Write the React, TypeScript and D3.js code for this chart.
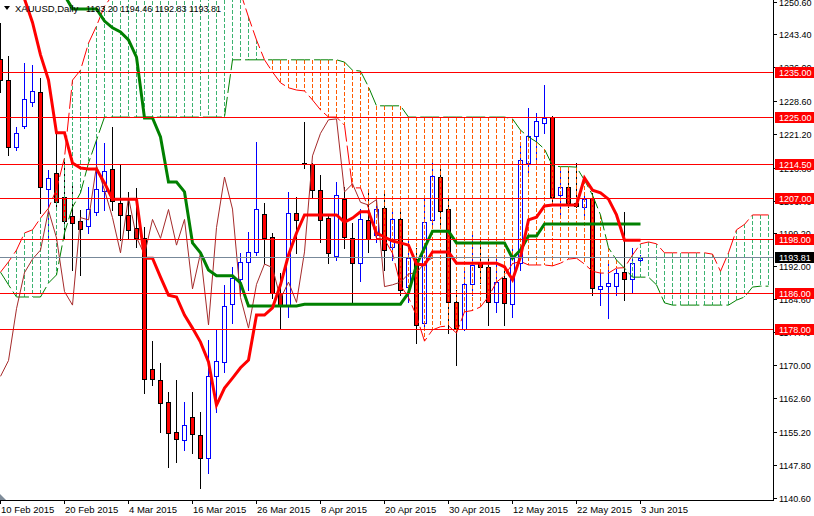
import React from 'react';
import * as d3 from 'd3';

// XAUUSD daily, 10 Feb 2015 .. 3 Jun 2015 with Ichimoku
const symbolText = 'XAUUSD,Daily';
const ohlcText = '1193.20 1194.46 1192.83 1193.81';

const dateLabels = [
  '10 Feb 2015', '20 Feb 2015', '4 Mar 2015', '16 Mar 2015', '26 Mar 2015', '8 Apr 2015',
  '20 Apr 2015', '30 Apr 2015', '12 May 2015', '22 May 2015', '3 Jun 2015',
];

const opens = [
  1237.9, 1233.2, 1218.4, 1223.0, 1228.3, 1230.6, 1209.0, 1212.6, 1207.3, 1203.1,
  1202.0, 1200.8, 1204.0, 1208.6, 1213.5, 1206.0, 1203.3, 1200.4, 1198.2, 1169.1,
  1166.7, 1161.8, 1155.2, 1153.4, 1158.5, 1154.5, 1149.4, 1167.6, 1170.7, 1183.5,
  1189.1, 1192.9, 1195.1, 1203.5, 1198.4, 1186.0, 1183.3, 1203.7, 1214.8, 1214.6,
  1208.8, 1202.6, 1194.2, 1206.8, 1198.2, 1192.6, 1202.2, 1198.9, 1204.8, 1196.2,
  1202.4, 1187.3, 1193.5, 1179.3, 1202.2, 1211.7, 1204.6, 1184.0, 1178.0, 1188.0,
  1192.9, 1191.8, 1184.0, 1189.3, 1183.5, 1192.6, 1214.8, 1220.8, 1223.7, 1225.0,
  1207.7, 1209.5, 1206.0, 1205.0, 1207.0, 1186.9, 1187.5, 1187.5, 1190.6, 1189.1,
  1193.2,
];
const highs = [
  1245.9, 1238.5, 1222.8, 1237.0, 1236.6, 1233.7, 1213.3, 1221.5, 1215.5, 1210.4,
  1204.4, 1209.5, 1219.9, 1219.3, 1222.8, 1214.6, 1208.4, 1209.3, 1200.6, 1175.3,
  1170.5, 1164.0, 1166.7, 1161.8, 1164.0, 1159.6, 1175.6, 1177.8, 1187.8, 1191.8,
  1194.9, 1199.5, 1219.5, 1205.9, 1199.3, 1190.4, 1208.4, 1207.3, 1223.9, 1214.8,
  1212.2, 1203.3, 1210.6, 1209.5, 1201.5, 1204.6, 1209.0, 1207.3, 1208.8, 1204.2,
  1204.2, 1198.0, 1196.0, 1206.8, 1214.8, 1213.9, 1206.8, 1186.7, 1191.8, 1199.3,
  1197.7, 1194.0, 1194.0, 1191.1, 1196.6, 1219.3, 1227.0, 1225.9, 1232.1, 1225.2,
  1213.9, 1213.9, 1214.8, 1208.2, 1208.2, 1190.4, 1193.3, 1191.3, 1204.0, 1196.0,
  1194.46,
];
const lows = [
  1230.6, 1216.6, 1217.6, 1222.6, 1227.5, 1203.7, 1198.2, 1205.0, 1198.2, 1191.1,
  1190.0, 1199.3, 1203.3, 1204.4, 1204.4, 1197.7, 1198.0, 1196.2, 1163.8, 1165.6,
  1155.2, 1147.4, 1148.5, 1151.2, 1150.5, 1142.7, 1146.1, 1159.6, 1168.5, 1179.3,
  1185.5, 1186.7, 1194.4, 1192.6, 1184.9, 1178.2, 1180.7, 1194.9, 1213.7, 1207.3,
  1197.3, 1192.6, 1193.3, 1196.0, 1183.8, 1188.6, 1195.1, 1197.3, 1191.1, 1193.3,
  1185.5, 1184.0, 1174.9, 1177.8, 1200.6, 1200.6, 1177.1, 1170.0, 1177.8, 1185.5,
  1188.2, 1178.9, 1181.8, 1178.9, 1180.7, 1191.1, 1212.2, 1215.5, 1221.5, 1206.2,
  1202.8, 1205.0, 1205.0, 1202.6, 1185.5, 1183.3, 1180.4, 1185.5, 1184.4, 1186.0,
  1192.83,
];
const closes = [
  1233.2, 1218.4, 1221.5, 1229.0, 1230.8, 1209.5, 1211.5, 1206.2, 1202.0, 1201.5,
  1200.2, 1204.6, 1209.0, 1213.0, 1206.4, 1203.3, 1200.0, 1198.2, 1166.9, 1166.9,
  1161.6, 1155.0, 1153.6, 1156.7, 1154.7, 1149.4, 1167.6, 1170.9, 1183.1, 1189.3,
  1192.9, 1195.1, 1204.6, 1198.2, 1186.0, 1183.3, 1203.7, 1202.2, 1214.6, 1208.8,
  1202.2, 1194.9, 1207.7, 1198.4, 1192.6, 1202.4, 1198.0, 1204.6, 1195.5, 1202.4,
  1186.7, 1193.7, 1178.9, 1201.7, 1211.9, 1204.2, 1184.0, 1178.2, 1188.0, 1192.2,
  1191.8, 1184.0, 1188.4, 1183.8, 1193.7, 1215.5, 1220.8, 1224.1, 1224.8, 1207.3,
  1209.5, 1206.0, 1205.3, 1206.8, 1187.1, 1187.5, 1188.2, 1190.4, 1189.1, 1192.6,
  1193.81,
];

// Ichimoku lines, one value per bar
const tenkan = [
  1262, 1259, 1256, 1251.2, 1246.0, 1238.8, 1233.2, 1221.5, 1221.5, 1214.8,
  1213.7, 1213.5, 1213.5, 1210.4, 1206.8, 1206.8, 1206.8, 1206.8, 1193.7, 1193.7,
  1189.5, 1185.5, 1185.1, 1181.1, 1178.2, 1175.1, 1170.7, 1161.1, 1164.9, 1167.1,
  1169.4, 1171.1, 1181.1, 1181.1, 1182.7, 1187.8, 1194.4, 1199.3, 1203.3, 1203.3,
  1203.3, 1203.3, 1203.3, 1201.7, 1202.6, 1204.0, 1204.0, 1199.3, 1198.4, 1197.5,
  1197.1, 1196.6, 1192.4, 1192.2, 1195.1, 1195.1, 1195.1, 1192.6, 1192.6, 1192.6,
  1192.6, 1192.6, 1192.6, 1191.8, 1188.9, 1194.0, 1202.2, 1202.8, 1205.3, 1205.5,
  1205.5, 1205.5, 1205.5, 1211.5, 1208.8, 1208.2, 1206.8, 1203.3, 1197.7, 1197.7,
  1197.7,
];
const kijun = [
  1252, 1252, 1252, 1252, 1252, 1252, 1252, 1252, 1252, 1249,
  1249, 1249, 1249, 1246.3, 1244.8, 1243.9, 1242.1, 1238.3, 1224.8, 1224.8,
  1220.6, 1210.6, 1210.6, 1208.4, 1197.1, 1194.9, 1191.1, 1189.8, 1189.8, 1189.8,
  1188.2, 1183.1, 1183.1, 1183.1, 1183.1, 1183.1, 1183.1, 1183.1, 1183.5, 1183.5,
  1183.5, 1183.5, 1183.5, 1183.5, 1183.5, 1183.5, 1183.5, 1183.5, 1183.5, 1183.5,
  1183.5, 1186.0, 1192.2, 1196.0, 1199.7, 1199.7, 1199.7, 1197.1, 1197.1, 1197.1,
  1197.1, 1197.1, 1197.1, 1197.1, 1193.7, 1195.5, 1198.6, 1198.6, 1201.3, 1201.3,
  1201.3, 1201.3, 1201.3, 1201.3, 1201.3, 1201.3, 1201.3, 1201.3, 1201.3, 1201.3,
  1201.3,
];
const spanA = [
  1190.6, 1192.9, 1195.5, 1199.3, 1200.0, 1202.6, 1204.8, 1209.0, 1216.0, 1233.2,
  1235.4, 1241.4, 1245.2, 1249.6, 1252, 1256, 1258, 1260, 1260, 1260,
  1260, 1260, 1260, 1260, 1260, 1258, 1257, 1256, 1255, 1254,
  1252.6, 1247.2, 1242.1, 1237.7, 1235.0, 1232.6, 1231.5, 1231.0, 1230.8, 1228.8,
  1226.6, 1225.0, 1225.0, 1223.2, 1209.3, 1209.3, 1204.8, 1198.1, 1197.9, 1194.8,
  1187.7, 1185.0, 1180.9, 1175.3, 1177.8, 1178.5, 1178.7, 1177.1, 1181.8, 1182.1,
  1182.9, 1185.2, 1188.4, 1189.8, 1192.5, 1193.0, 1192.2, 1192.2, 1192.2, 1192.0,
  1192.6, 1193.5, 1193.7, 1192.4, 1190.8, 1190.4, 1190.4, 1191.5, 1191.6, 1194.4,
  1196.9, 1197.3, 1196.9, 1194.9, 1194.9, 1194.9, 1194.9, 1194.9, 1194.9, 1194.6,
  1190.8, 1194.9, 1200.0, 1201.2, 1203.3, 1203.3, 1203.3,
];
const spanB = [
  1190.6, 1187.8, 1185.1, 1185.1, 1185.1, 1185.1, 1188.2, 1190.0, 1199.3, 1205.0,
  1208.2, 1214.8, 1219.9, 1225.0, 1225.0, 1225.0, 1225.0, 1225.0, 1225.0, 1225.0,
  1225.0, 1225.0, 1225.0, 1225.0, 1225.0, 1225.0, 1225.0, 1225.0, 1225.0, 1237.7,
  1237.7, 1237.7, 1237.7, 1237.7, 1237.7, 1237.7, 1237.7, 1237.7, 1237.7, 1237.7,
  1237.7, 1237.7, 1237.7, 1237.2, 1235.4, 1235.2, 1231.7, 1227.5, 1227.5, 1227.5,
  1227.5, 1225.0, 1225.0, 1225.0, 1225.0, 1225.0, 1225.0, 1225.0, 1225.0, 1225.0,
  1225.0, 1225.0, 1225.0, 1225.0, 1224.6, 1222.1, 1220.6, 1219.5, 1217.9, 1214.2,
  1214.0, 1214.0, 1213.9, 1211.0, 1207.7, 1203.3, 1196.0, 1193.3, 1191.5, 1189.5,
  1189.5, 1189.5, 1187.8, 1183.8, 1183.3, 1183.3, 1183.3, 1183.3, 1183.3, 1183.3,
  1183.3, 1183.3, 1184.4, 1185.1, 1187.3, 1187.5, 1187.5,
];
const chikou = [
  1167.5, 1171.0, 1182.5, 1190.5, 1193.5, 1195.5, 1204.3, 1198.2, 1186.3, 1183.3,
  1202.7, 1202.2, 1214.2, 1208.8, 1202.7, 1194.9, 1207.2, 1198.3, 1194.5, 1202.3,
  1198.1, 1204.5, 1196.6, 1202.3, 1186.9, 1194.8, 1178.9, 1200.5, 1211.7, 1204.6,
  1185.0, 1178.2, 1187.9, 1192.4, 1191.6, 1184.7, 1188.4, 1183.9, 1195.1, 1216.4,
  1221.4, 1224.4, 1224.6, 1208.4, 1210.2, 1206.1, 1205.5, 1206.7, 1187.4, 1187.8,
  1188.4, 1190.2, 1190.5, 1192.6, 1193.81,
];

const levels = [1235, 1225, 1214.5, 1207, 1198, 1186, 1178];
const lastPrice = 1193.81;
const priceTicks = [
  1250.6, 1243.4, 1236.0, 1228.6, 1221.2, 1213.8, 1206.4, 1199.2,
  1192.0, 1184.6, 1177.4, 1170.0, 1162.6, 1155.2, 1147.8, 1140.6,
];

const W = 814;
const H = 516;
const plotRight = 773;
const plotBottom = 500;
const font = 'Liberation Sans, Arial, sans-serif';

export default function App() {
  // 8px per bar, bar 0 sits on the left edge
  const x = d3.scaleLinear().domain([0, 1]).range([0.5, 8.5]);
  const y = d3.scaleLinear().domain([1178, 1235]).range([329, 72]);
  const snap = (v: number) => Math.round(v) + 0.5;
  const line = d3.line<number>().x((_, i) => x(i)).y(d => y(d));

  return (
    <svg width={W} height={H} style={{ position: 'absolute', left: 0, top: 0, background: '#fff' }} fontFamily={font}>
      <defs>
        <clipPath id="plot">
          <rect x={0} y={0} width={plotRight} height={plotBottom} />
        </clipPath>
      </defs>
      <rect x={0} y={0} width={W} height={H} fill="#fff" />

      <g clipPath="url(#plot)">
        {/* candles */}
        {opens.map((o, i) => {
          const c = closes[i];
          const bull = c > o;
          const cx = x(i);
          const top = Math.round(y(Math.max(o, c)));
          const bot = Math.round(y(Math.min(o, c)));
          const col = bull ? '#0000ff' : '#000000';
          return (
            <g key={'c' + i}>
              <line x1={cx} x2={cx} y1={Math.round(y(highs[i]))} y2={Math.round(y(lows[i])) + 1} stroke={col} />
              <rect x={cx - 2} y={top + 0.5} width={4} height={Math.max(bot - top, 1)}
                fill={bull ? '#ffffff' : '#ff0000'} stroke={col} shapeRendering="crispEdges" />
            </g>
          );
        })}

        {/* kumo hatching */}
        {spanA.map((a, i) => {
          const b = spanB[i];
          const y1 = Math.min(y(a), y(b));
          const y2 = Math.max(y(a), y(b));
          return (
            <line key={'k' + i} x1={x(i)} x2={x(i)} y1={y1} y2={y2}
              stroke={a >= b ? '#3cb371' : '#ff5a00'} strokeDasharray="4,2" shapeRendering="crispEdges" />
          );
        })}
        <path d={line(spanA) ?? ''} fill="none" stroke="#ff0000" strokeWidth={1} strokeDasharray="19,4" />
        <path d={line(spanB) ?? ''} fill="none" stroke="#008000" strokeWidth={1} strokeDasharray="19,4" />

        {/* chikou, tenkan, kijun */}
        <path d={line(chikou) ?? ''} fill="none" stroke="#a52a2a" strokeWidth={1} />
        <path d={line(kijun) ?? ''} fill="none" stroke="#008000" strokeWidth={3} />
        <path d={line(tenkan) ?? ''} fill="none" stroke="#ff0000" strokeWidth={3} />

        {/* horizontal levels */}
        {levels.map(l => (
          <line key={'l' + l} x1={0} x2={plotRight} y1={snap(y(l))} y2={snap(y(l))} stroke="#ff0000" shapeRendering="crispEdges" />
        ))}
        <line x1={0} x2={plotRight} y1={snap(y(lastPrice)) - 1} y2={snap(y(lastPrice)) - 1} stroke="#778899" shapeRendering="crispEdges" />
      </g>

      {/* axes */}
      <line x1={plotRight + 0.5} x2={plotRight + 0.5} y1={0} y2={plotBottom + 1} stroke="#000" shapeRendering="crispEdges" />
      <line x1={0} x2={plotRight + 1} y1={plotBottom + 0.5} y2={plotBottom + 0.5} stroke="#000" shapeRendering="crispEdges" />

      {priceTicks.map(p => {
        const py = snap(y(p));
        return (
          <g key={'p' + p}>
            <line x1={plotRight + 1} x2={plotRight + 4} y1={py} y2={py} stroke="#000" shapeRendering="crispEdges" />
            <text x={779} y={py + 3.5} fontSize={9} fill="#000">{p.toFixed(2)}</text>
          </g>
        );
      })}

      {levels.map(l => {
        const py = Math.round(y(l));
        return (
          <g key={'lb' + l}>
            <rect x={775} y={py - 5} width={39} height={11} fill="#ff0000" />
            <text x={779} y={py + 4} fontSize={9} fill="#fff">{l.toFixed(2)}</text>
          </g>
        );
      })}
      {(() => {
        const py = Math.round(y(lastPrice)) - 1;
        return (
          <g>
            <rect x={775} y={py - 5} width={39} height={11} fill="#000" />
            <text x={779} y={py + 4} fontSize={9} fill="#fff">{lastPrice.toFixed(2)}</text>
          </g>
        );
      })()}

      {dateLabels.map((d, k) => {
        const tx = x(k * 8);
        return (
          <g key={'d' + k}>
            <line x1={tx} x2={tx} y1={plotBottom + 1} y2={plotBottom + 4} stroke="#000" shapeRendering="crispEdges" />
            <text x={tx + 0.5} y={513} fontSize={9.5} fill="#000">{d}</text>
          </g>
        );
      })}

      {/* header */}
      <polygon points="4,6 10,6 7,10" fill="#000" />
      <text x={15} y={12} fontSize={9.5} fill="#000">{symbolText}</text>
      <text x={86} y={12} fontSize={9} fill="#000">{ohlcText}</text>
      <polygon points="0,494 0,500 6,500" fill="#7f8c99" />
    </svg>
  );
}
